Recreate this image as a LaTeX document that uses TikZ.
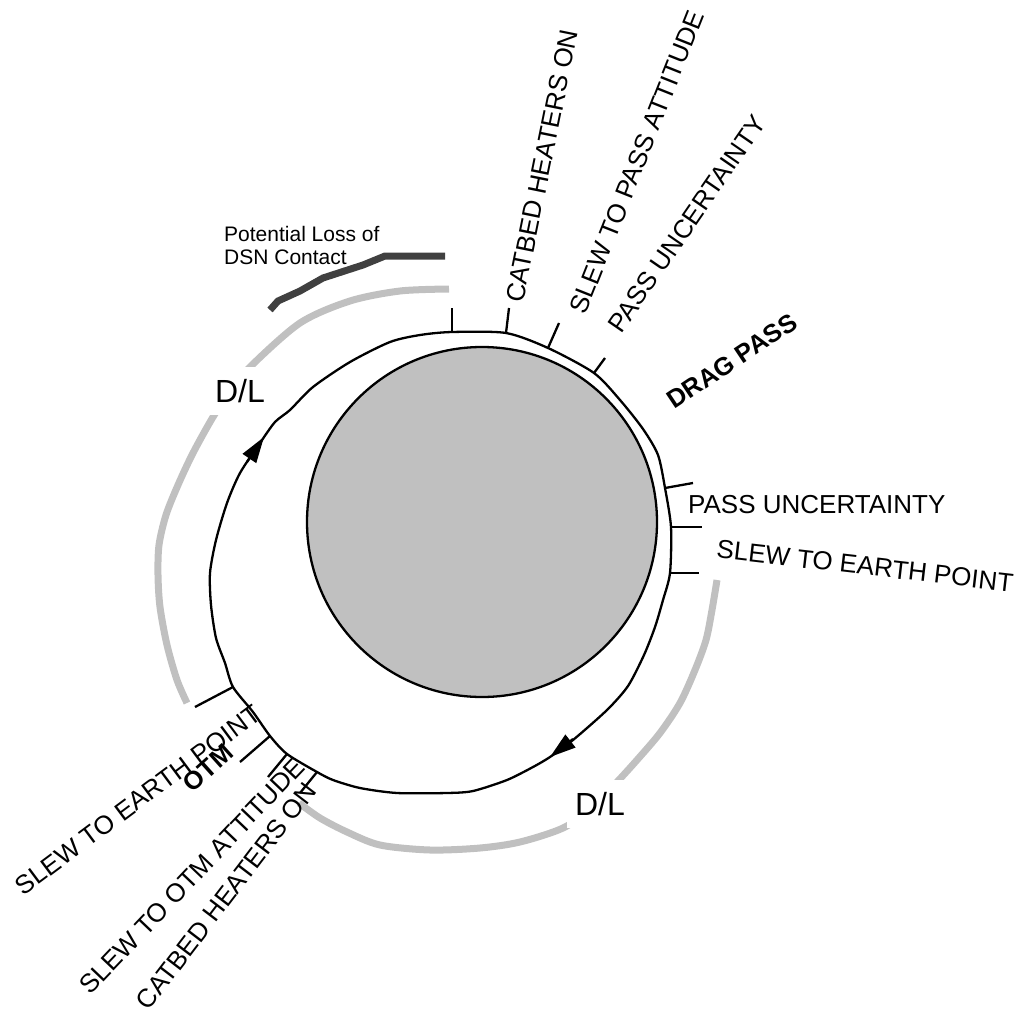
\documentclass[tikz,border=0pt]{standalone}
\usepackage{fontspec}
\setmainfont{Liberation Sans}
\usetikzlibrary{arrows.meta}

\definecolor{planetgray}{HTML}{C0C0C0}
\definecolor{dlgray}{HTML}{C0C0C0}
\definecolor{lossgray}{HTML}{404040}

\tikzset{
  orbitline/.style={line width=2.3pt, line join=round},
  tickline/.style={line width=2.3pt},
  dlarc/.style={line width=7pt, draw=dlgray},
  lossline/.style={line width=7pt, draw=lossgray},
  flowtip/.style={line width=2.3pt, -{Triangle[length=26pt,width=16pt]}},
  evt/.style={inner sep=0pt, font=\fontsize{26pt}{30pt}\selectfont},
  phase/.style={inner sep=0pt, font=\fontsize{25.5pt}{30pt}\selectfont\bfseries},
  dltext/.style={fill=white, inner xsep=8pt, inner ysep=12pt, font=\fontsize{32pt}{36pt}\selectfont},
  note/.style={inner sep=0pt, anchor=base west, font=\fontsize{21pt}{24pt}\selectfont}
}

\begin{document}
\begin{tikzpicture}[x=1pt, y=-1pt]
\useasboundingbox (0,0) rectangle (1027,1011);

% Mars
\node[circle, draw, line width=2.3pt, fill=planetgray, minimum size=350pt, inner sep=0pt] (planet) at (482,522) {};

% downlink coverage arcs
\draw[dlarc] plot[smooth, tension=0.5] coordinates {(449,289) (400,291) (350,301) (300,323) (250,367) (230,392) (213,417) (193,453) (178,485) (166,515) (159,545) (158,575) (160,607) (167,645) (177,680) (187,703)};
\draw[dlarc] plot[smooth, tension=0.5] coordinates {(717,580) (712,610) (706,640) (695,670) (680,703) (660,733) (637,760) (617,782) (592,808) (563,828) (520,842) (480,848) (430,850) (380,845) (347,832) (320,818) (299,803)};
\node[dltext] (dlA) at (240,391) {D/L};
\node[dltext] (dlB) at (600,804) {D/L};

% possible loss of DSN contact
\draw[lossline] (270,310) -- (278,301) -- (300,291) -- (323,278) -- (363,265) -- (385,256) -- (445,256);
\node[note] (lossA) at (224,241) {Potential Loss of};
\node[note] (lossB) at (224,264) {DSN Contact};

% aerobraking orbit
\draw[orbitline] plot[smooth cycle, tension=0.45] coordinates {
  (452,332) (506,333) (548,348) (594,373) (620,400) (643,429) (658,455) (665,488)
  (671,527) (670,573) (663,600) (655,627) (644,655) (628,686) (607,710) (573,740)
  (550,757) (533,767) (507,780) (473,791) (447,793) (397,793) (360,788) (333,780)
  (317,772) (287,754) (270,736) (253,712) (233,687) (225,663) (216,638) (211,605)
  (210,573) (216,540) (227,503) (240,473) (260,443) (275,422) (290,410) (313,387)
  (350,362) (390,342) (420,335)};

% direction of motion
\coordinate (upA) at (247,462);
\coordinate (upB) at (264,437);
\coordinate (dnA) at (573,739);
\coordinate (dnB) at (550,757);
\draw[flowtip] (upA) -- (upB);
\draw[flowtip] (dnA) -- (dnB);

% event ticks: inner end on the orbit, outer end free
\coordinate (t1i) at (452,332);  \coordinate (t1o) at (452,308);
\coordinate (t2i) at (506,333);  \coordinate (t2o) at (509,308);
\coordinate (t3i) at (548,348);  \coordinate (t3o) at (559,323);
\coordinate (t4i) at (594,373);  \coordinate (t4o) at (605,358);
\coordinate (t5i) at (665,488);  \coordinate (t5o) at (693,483);
\coordinate (t6i) at (671,527);  \coordinate (t6o) at (702,527);
\coordinate (t7i) at (670,573);  \coordinate (t7o) at (699,573);
\coordinate (t8i) at (233,687);  \coordinate (t8o) at (195,707);
\coordinate (t9i) at (270,736);  \coordinate (t9o) at (240,762);
\coordinate (t10i) at (287,754); \coordinate (t10o) at (268,777);
\coordinate (t11i) at (317,772); \coordinate (t11o) at (300,793);
\draw[tickline] (t1i) -- (t1o);
\draw[tickline] (t2i) -- (t2o);
\draw[tickline] (t3i) -- (t3o);
\draw[tickline] (t4i) -- (t4o);
\draw[tickline] (t5i) -- (t5o);
\draw[tickline] (t6i) -- (t6o);
\draw[tickline] (t7i) -- (t7o);
\draw[tickline] (t8i) -- (t8o);
\draw[tickline] (t9i) -- (t9o);
\draw[tickline] (t10i) -- (t10o);
\draw[tickline] (t11i) -- (t11o);

% event labels
\node[evt, rotate=78.5] (catbedA) at (542,166) {CATBED HEATERS ON};
\node[evt, rotate=68.3] (slewpass) at (637,162) {SLEW TO PASS ATTITUDE};
\node[evt, rotate=55.4] (uncA) at (687,224) {PASS UNCERTAINTY};
\node[phase, rotate=33.7] (drag) at (732,361) {DRAG PASS};
\node[evt, anchor=base west] (uncB) at (688,513) {PASS UNCERTAINTY};
\node[evt, rotate=-6.6] (earthA) at (865,566) {SLEW TO EARTH POINT};
\node[evt, rotate=36.7] (earthB) at (138,800) {SLEW TO EARTH POINT};
\node[phase, rotate=42] (otm) at (208,768) {OTM};
\node[evt, rotate=46.4] (slewotm) at (192,876) {SLEW TO OTM ATTITUDE};
\node[evt, rotate=52.6] (catbedB) at (226,896) {CATBED HEATERS ON};
\end{tikzpicture}
\end{document}
